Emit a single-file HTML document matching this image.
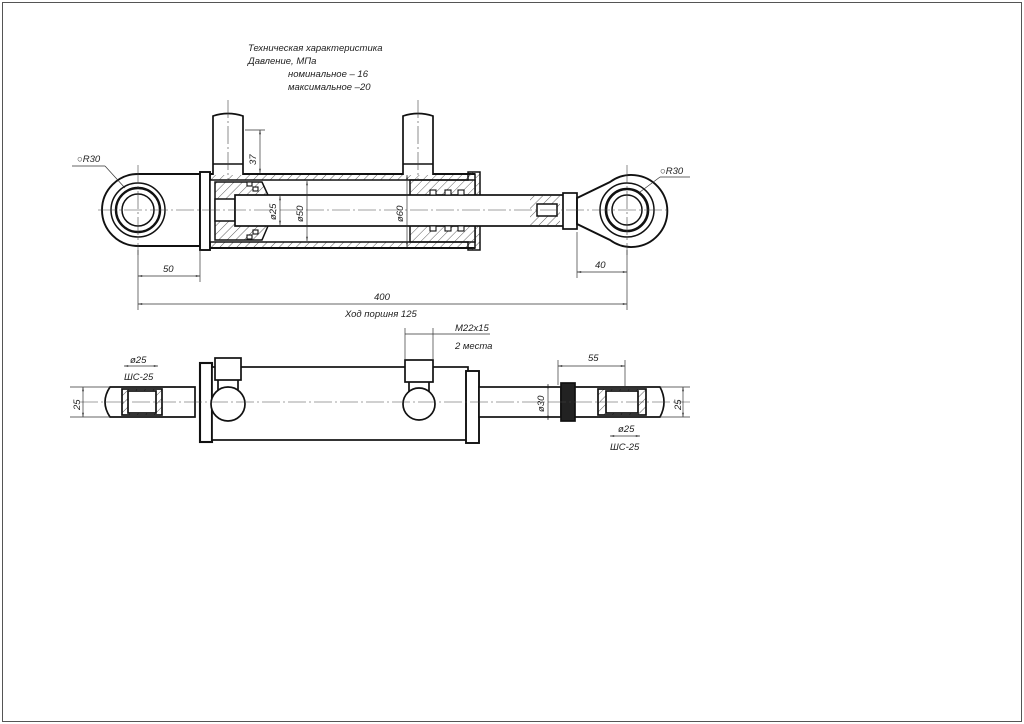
<!DOCTYPE html>
<html><head><meta charset="utf-8"><style>
html,body{margin:0;padding:0;background:#fff}
svg{display:block}
text{font-family:"Liberation Sans",sans-serif;font-style:italic;fill:#222}
</style></head><body>
<svg width="1024" height="724" viewBox="0 0 1024 724" xmlns="http://www.w3.org/2000/svg">
<defs>
<pattern id="h" width="6" height="6" patternUnits="userSpaceOnUse" patternTransform="rotate(45)"><line x1="0" y1="0" x2="0" y2="6" stroke="#333" stroke-width="0.8"/></pattern>
<marker id="a" viewBox="0 0 10 10" refX="10" refY="5" markerWidth="8" markerHeight="6" orient="auto-start-reverse"><path d="M0,3 L10,5 L0,7z" fill="#222"/></marker>
</defs>
<rect x="2.5" y="2.5" width="1019" height="719" fill="none" stroke="#555" stroke-width="1"/>

<g font-size="9.5">
<text x="248" y="51">Техническая характеристика</text>
<text x="248" y="64">Давление, МПа</text>
<text x="288" y="77">номинальное  – 16</text>
<text x="288" y="90">максимальное –20</text>
</g>

<!-- TOP VIEW -->
<g stroke="#111" fill="none" stroke-width="1.5">
<path d="M138,174 L200,174 L200,246 L138,246 A36,36 0 0 1 138,174z" fill="#fff" stroke-width="1.9"/>
<circle cx="138" cy="210" r="27"/>
<circle cx="138" cy="210" r="22" stroke-width="2.4"/>
<circle cx="138" cy="210" r="16"/>
<rect x="200" y="172" width="10" height="78" fill="#fff" stroke-width="1.9"/>
<rect x="210" y="174" width="265" height="74" fill="url(#h)"/>
<rect x="210" y="180" width="265" height="62" fill="#fff"/>
<line x1="210" y1="174" x2="475" y2="174" stroke-width="1.9"/>
<line x1="210" y1="248" x2="475" y2="248" stroke-width="1.9"/>
<path d="M215,182 L262,182 L268,195 L268,226 L262,240 L215,240z" fill="url(#h)"/>
<rect x="215" y="199" width="20" height="22" fill="#fff"/>
<path d="M410,180 L468,180 L468,172 L480,172 L480,250 L468,250 L468,242 L410,242z" fill="url(#h)"/>
<rect x="235" y="195" width="332" height="31" fill="#fff" stroke-width="1.7"/>
<path d="M530,195 L560,195 L560,226 L530,226z" fill="url(#h)" stroke="none"/>
<rect x="537" y="204" width="20" height="12" fill="#fff"/>
<path d="M213,175 L213,116 Q228,111 243,116 L243,175" fill="#fff" stroke-width="1.7"/>
<line x1="213" y1="164" x2="243" y2="164"/>
<path d="M403,175 L403,116 Q418,111 433,116 L433,175" fill="#fff" stroke-width="1.7"/>
<line x1="403" y1="164" x2="433" y2="164"/>
<g fill="#fff" stroke-width="1.1">
<rect x="247" y="182" width="5" height="4"/><rect x="247" y="235" width="5" height="4"/>
<rect x="253" y="187" width="5" height="4"/><rect x="253" y="230" width="5" height="4"/>
<rect x="430" y="190" width="6" height="5"/><rect x="430" y="226" width="6" height="5"/>
<rect x="445" y="190" width="6" height="5"/><rect x="445" y="226" width="6" height="5"/>
<rect x="458" y="190" width="6" height="5"/><rect x="458" y="226" width="6" height="5"/>
</g>
<rect x="563" y="193" width="14" height="36" fill="#fff" stroke-width="1.7"/>
<path d="M577,198 L610,182 A36,36 0 1 1 610,240 L577,224z" fill="#fff" stroke-width="1.9"/>
<circle cx="627" cy="210" r="27"/>
<circle cx="627" cy="210" r="21" stroke-width="2.6"/>
<circle cx="627" cy="210" r="15"/>
</g>
<g stroke="#444" stroke-width="0.6" stroke-dasharray="18,3,2,3" fill="none">
<line x1="98" y1="210" x2="670" y2="210"/>
<line x1="138" y1="165" x2="138" y2="255"/>
<line x1="627" y1="165" x2="627" y2="255"/>
<line x1="228" y1="100" x2="228" y2="180"/>
<line x1="418" y1="100" x2="418" y2="180"/>
</g>
<g stroke="#333" stroke-width="0.7" fill="none">
<line x1="245" y1="130" x2="265" y2="130"/>
<line x1="260" y1="130" x2="260" y2="173" marker-start="url(#a)" marker-end="url(#a)"/>
<line x1="138" y1="250" x2="138" y2="310"/>
<line x1="200" y1="250" x2="200" y2="282"/>
<line x1="138" y1="276" x2="200" y2="276" marker-start="url(#a)" marker-end="url(#a)"/>
<line x1="627" y1="250" x2="627" y2="310"/>
<line x1="577" y1="232" x2="577" y2="278"/>
<line x1="577" y1="272" x2="627" y2="272" marker-start="url(#a)" marker-end="url(#a)"/>
<line x1="138" y1="304" x2="627" y2="304" marker-start="url(#a)" marker-end="url(#a)"/>
<line x1="280" y1="196" x2="280" y2="225" marker-start="url(#a)" marker-end="url(#a)"/>
<line x1="307" y1="181" x2="307" y2="241" marker-start="url(#a)" marker-end="url(#a)"/>
<line x1="407" y1="175" x2="407" y2="247" marker-start="url(#a)" marker-end="url(#a)"/>
<line x1="72" y1="166" x2="105" y2="166"/><line x1="105" y1="166" x2="125" y2="188"/>
<line x1="690" y1="177" x2="660" y2="177"/><line x1="660" y1="177" x2="640" y2="192"/>
</g>
<g font-size="9.5">
<text x="77" y="162">○R30</text>
<text x="660" y="174">○R30</text>
<text x="163" y="272">50</text>
<text x="595" y="268">40</text>
<text x="374" y="300">400</text>
<text x="345" y="317">Ход поршня 125</text>
<text transform="translate(256,165) rotate(-90)">37</text>
<text transform="translate(276,220) rotate(-90)">ø25</text>
<text transform="translate(303,222) rotate(-90)">ø50</text>
<text transform="translate(403,222) rotate(-90)">ø60</text>
</g>

<!-- BOTTOM VIEW -->
<g stroke="#111" fill="#fff" stroke-width="1.7">
<path d="M110,387 L195,387 L195,417 L110,417 Q100,402 110,387z"/>
<rect x="122" y="389" width="40" height="26" fill="url(#h)"/>
<rect x="128" y="391" width="28" height="22"/>
<rect x="200" y="363" width="12" height="79" stroke-width="2.1"/>
<rect x="212" y="367" width="256" height="73"/>
<rect x="466" y="371" width="13" height="72" stroke-width="1.9"/>
<rect x="479" y="387" width="82" height="30"/>
<rect x="561" y="383" width="14" height="38" fill="#222"/>
<path d="M575,387 L660,387 Q668,402 660,417 L575,417z"/>
<rect x="598" y="389" width="48" height="26" fill="url(#h)"/>
<rect x="606" y="391" width="32" height="22"/>
<path d="M218,380 L218,392 M238,380 L238,392"/>
<path d="M409,382 L409,394 M429,382 L429,394"/>
<rect x="215" y="358" width="26" height="22"/>
<circle cx="228" cy="404" r="17"/>
<rect x="405" y="360" width="28" height="22"/>
<circle cx="419" cy="404" r="16"/>
</g>
<g stroke="#444" stroke-width="0.6" stroke-dasharray="18,3,2,3">
<line x1="80" y1="402" x2="690" y2="402"/>
</g>
<g stroke="#333" stroke-width="0.7" fill="none">
<line x1="70" y1="387" x2="110" y2="387"/><line x1="70" y1="417" x2="110" y2="417"/>
<line x1="83" y1="387" x2="83" y2="417" marker-start="url(#a)" marker-end="url(#a)"/>
<line x1="124" y1="366" x2="158" y2="366" marker-start="url(#a)" marker-end="url(#a)"/>
<line x1="405" y1="334" x2="490" y2="334"/>
<line x1="405" y1="328" x2="405" y2="360"/><line x1="433" y1="328" x2="433" y2="360"/>
<line x1="558" y1="366" x2="625" y2="366" marker-start="url(#a)" marker-end="url(#a)"/>
<line x1="558" y1="360" x2="558" y2="385"/><line x1="625" y1="360" x2="625" y2="390"/>
<line x1="548" y1="384" x2="548" y2="420" marker-start="url(#a)" marker-end="url(#a)"/>
<line x1="660" y1="387" x2="690" y2="387"/><line x1="660" y1="417" x2="690" y2="417"/>
<line x1="683" y1="387" x2="683" y2="417" marker-start="url(#a)" marker-end="url(#a)"/>
<line x1="610" y1="436" x2="640" y2="436" marker-start="url(#a)" marker-end="url(#a)"/>
</g>
<g font-size="9.5">
<text x="130" y="363">ø25</text>
<text x="124" y="380">ШС-25</text>
<text transform="translate(80,410) rotate(-90)">25</text>
<text x="455" y="331">M22x15</text>
<text x="455" y="349">2 места</text>
<text x="588" y="361">55</text>
<text transform="translate(544,412) rotate(-90)">ø30</text>
<text transform="translate(681,410) rotate(-90)">25</text>
<text x="618" y="432">ø25</text>
<text x="610" y="450">ШС-25</text>
</g>
</svg>
</body></html>
